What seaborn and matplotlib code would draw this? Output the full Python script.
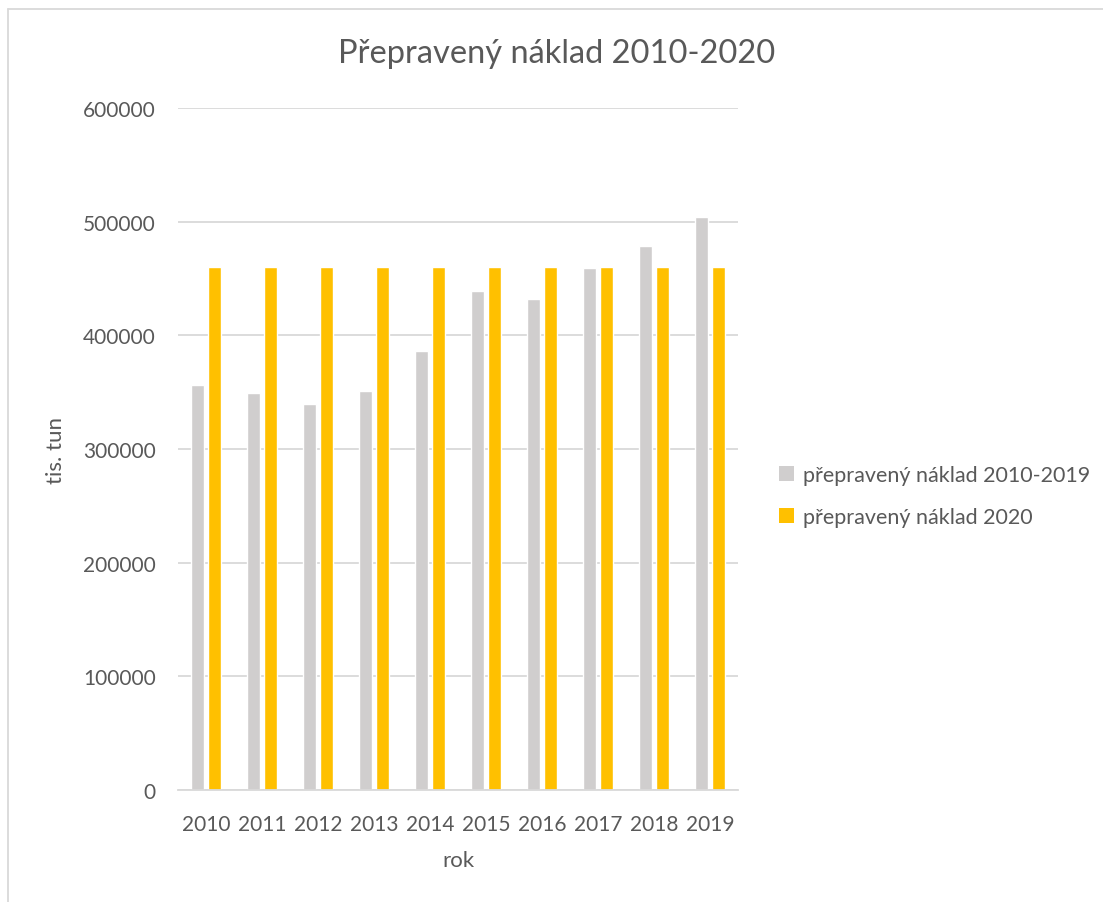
import matplotlib
matplotlib.use("Agg")

import matplotlib.pyplot as plt
import pandas as pd
import seaborn as sns
from matplotlib.patches import Patch
from matplotlib.lines import Line2D

# --- DATA ---
years = ["2010", "2011", "2012", "2013", "2014", "2015", "2016", "2017", "2018", "2019"]
naklad_2010_2019 = [356000, 349000, 339500, 351000, 386500, 439000, 432000, 459500, 479000, 504500]
naklad_2020 = [460000] * 10
series_names = ["přepravený náklad 2010-2019", "přepravený náklad 2020"]
colors = ["#D0CECE", "#FFC000"]
text_color = "#595959"
grid_color = "#D9D9D9"

df = pd.DataFrame({
    "rok": years * 2,
    "value": naklad_2010_2019 + naklad_2020,
    "serie": [series_names[0]] * len(years) + [series_names[1]] * len(years),
})

sns.set_style("white")
plt.rcParams["font.family"] = ["Lato", "DejaVu Sans"]

fig = plt.figure(figsize=(11.03, 9.03), dpi=100)
ax = fig.add_axes([0.1614, 0.124, 0.5077, 0.7553])

sns.barplot(data=df, x="rok", y="value", hue="serie", palette=colors,
            width=0.58, gap=0.2, saturation=1, ax=ax, legend=False)

ax.set_ylim(0, 600000)
ax.set_yticks(range(0, 600001, 100000))
ax.set_xlim(-0.5, len(years) - 0.5)
ax.yaxis.grid(True, color=grid_color, linewidth=1.3)
ax.set_axisbelow(True)
for s in ["top", "right", "left"]:
    ax.spines[s].set_visible(False)
ax.spines["bottom"].set_color(grid_color)
ax.spines["bottom"].set_linewidth(1.3)
ax.tick_params(axis="both", length=0, labelsize=15, labelcolor=text_color)
ax.tick_params(axis="y", pad=16)
ax.tick_params(axis="x", pad=17)

ax.set_xlabel("rok", fontsize=16, color=text_color, labelpad=12)
ax.set_ylabel("tis. tun", fontsize=16, color=text_color, labelpad=12)

fig.text(557 / 1103, 1 - 54 / 903, "Přepravený náklad 2010-2020",
         ha="center", va="center", fontsize=23.5, color=text_color)

handles = [Patch(facecolor=c, edgecolor="none") for c in colors]
fig.legend(handles, series_names, loc="center left",
           bbox_to_anchor=(760 / 1103, 1 - 497 / 903), frameon=False,
           fontsize=15.5, labelcolor=text_color, handlelength=0.7,
           handleheight=0.7, handletextpad=0.4, labelspacing=1.05)

# chart border
fig.add_artist(Line2D([8 / 1103, 8 / 1103], [0, 1 - 10 / 903], color=grid_color,
                      linewidth=1.3, transform=fig.transFigure))
fig.add_artist(Line2D([8 / 1103, 1], [1 - 10 / 903, 1 - 10 / 903], color=grid_color,
                      linewidth=1.3, transform=fig.transFigure))

plt.savefig("out.png", dpi=100, facecolor="white")
